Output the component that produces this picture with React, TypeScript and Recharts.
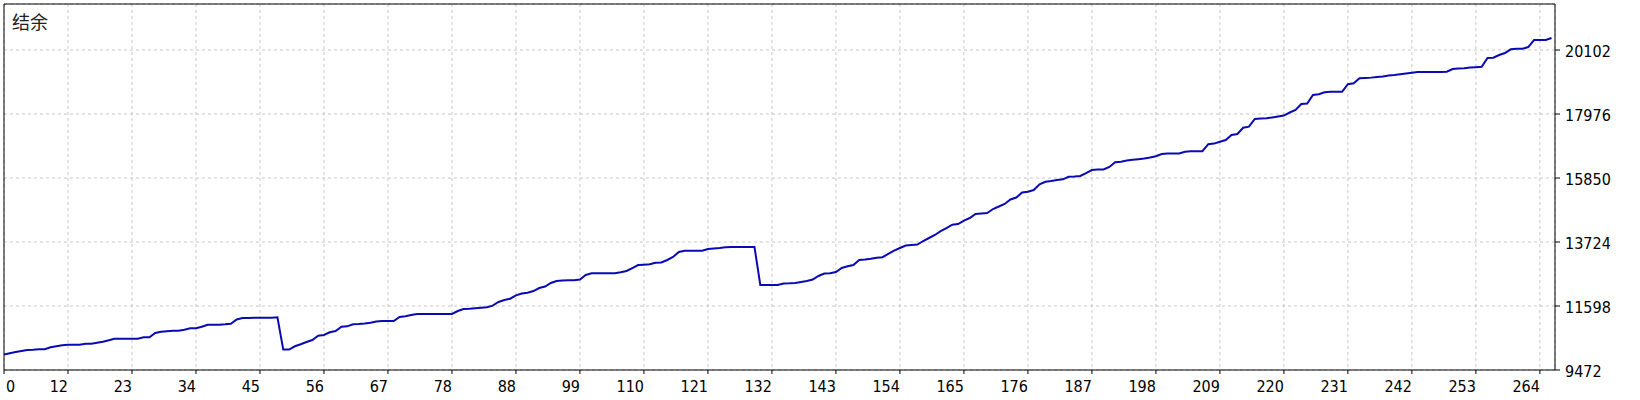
import React from "react";
import {
  LineChart,
  Line,
  XAxis,
  YAxis,
  CartesianGrid,
  ReferenceLine,
} from "recharts";

// balance after each deal
const balance: number[] = [
  9987, 10030, 10070, 10103, 10136, 10143, 10160, 10160, 10226, 10259,
  10293, 10312, 10312, 10312, 10346, 10346, 10379, 10412, 10459, 10512,
  10512, 10512, 10512, 10512, 10558, 10558, 10700, 10744, 10760, 10778,
  10778, 10811, 10857, 10857, 10910, 10977, 10977, 10977, 10990, 11010,
  11150, 11199, 11199, 11205, 11205, 11210, 11210, 11222, 10150, 10150,
  10260, 10326, 10402, 10469, 10611, 10635, 10724, 10768, 10910, 10923,
  10990, 11000, 11017, 11040, 11083, 11100, 11100, 11100, 11233, 11256,
  11299, 11332, 11332, 11332, 11332, 11332, 11332, 11332, 11432, 11498,
  11508, 11525, 11542, 11558, 11610, 11731, 11797, 11841, 11950, 12013,
  12040, 12096, 12196, 12246, 12362, 12429, 12445, 12455, 12455, 12478,
  12628, 12684, 12684, 12684, 12684, 12684, 12717, 12761, 12860, 12960,
  12970, 12983, 13036, 13043, 13126, 13226, 13392, 13432, 13432, 13432,
  13432, 13492, 13508, 13525, 13548, 13558, 13558, 13558, 13558, 13558,
  12296, 12296, 12296, 12296, 12346, 12351, 12362, 12395, 12429, 12478,
  12595, 12678, 12684, 12728, 12860, 12917, 12960, 13126, 13143, 13169,
  13203, 13219, 13326, 13435, 13525, 13608, 13625, 13641, 13757, 13857,
  13957, 14083, 14189, 14299, 14322, 14438, 14521, 14654, 14671, 14688,
  14820, 14903, 14987, 15136, 15202, 15369, 15395, 15452, 15640, 15727,
  15751, 15784, 15807, 15893, 15900, 15917, 16016, 16116, 16133, 16133,
  16216, 16372, 16389, 16432, 16455, 16475, 16495, 16531, 16574, 16648,
  16664, 16664, 16664, 16724, 16741, 16741, 16741, 16973, 16993, 17056,
  17113, 17279, 17312, 17521, 17556, 17810, 17827, 17837, 17863, 17893,
  17926, 18026, 18109, 18309, 18325, 18608, 18631, 18697, 18714, 18714,
  18714, 18966, 18999, 19162, 19172, 19185, 19209, 19225, 19255, 19272,
  19295, 19322, 19345, 19372, 19372, 19372, 19372, 19372, 19382, 19471,
  19485, 19498, 19518, 19531, 19548, 19837, 19847, 19936, 20003, 20126,
  20142, 20142, 20202, 20435, 20435, 20435, 20501,
];

// x ticks sit every 11 deals, the terminal labels them a bit oddly
const xTicks: number[] = [
  0, 11, 22, 33, 44, 55, 66, 77, 88, 99, 110, 121, 132, 143, 154, 165, 176,
  187, 198, 209, 220, 231, 242, 253, 264,
];
const xTickLabels: string[] = [
  "0", "12", "23", "34", "45", "56", "67", "78", "88", "99", "110", "121",
  "132", "143", "154", "165", "176", "187", "198", "209", "220", "231",
  "242", "253", "264",
];
const yTicks: number[] = [9472, 11598, 13724, 15850, 17976, 20102];
const yMin = 9472;
const yMax = 21631;
const xMax = 266.6;

const title = "结余";

const data = balance.map((v, i) => ({ i, v }));

const FONT = "'DejaVu Sans Condensed', 'DejaVu Sans', sans-serif";

const XTick = (props: any) => {
  const { x, y, payload } = props;
  const k = xTicks.indexOf(payload.value);
  const label = k >= 0 ? xTickLabels[k] : String(payload.value);
  const first = payload.value === 0;
  return (
    <text
      x={first ? x + 2 : x}
      y={y}
      dy={16}
      textAnchor={first ? "start" : "end"}
      fill="#000"
      fontSize={16}
      fontFamily={FONT}
    >
      {label}
    </text>
  );
};

const YTick = (props: any) => {
  const { x, y, payload } = props;
  return (
    <text
      x={x}
      y={y}
      dy={7}
      textAnchor="start"
      fill="#000"
      fontSize={16}
      fontFamily={FONT}
    >
      {payload.value}
    </text>
  );
};

export default function App() {
  return (
    <div
      style={{
        position: "absolute",
        left: 0,
        top: 0,
        width: 1640,
        height: 400,
        background: "#fff",
      }}
    >
      <LineChart
        width={1640}
        height={400}
        data={data}
        margin={{ top: 4, left: 4, right: 0, bottom: 0 }}
      >
        <CartesianGrid stroke="#c8c8c8" strokeDasharray="3 3" />
        <XAxis
          dataKey="i"
          type="number"
          domain={[0, xMax]}
          ticks={xTicks}
          interval={0}
          allowDataOverflow
          height={30}
          tickSize={4}
          tickMargin={2}
          axisLine={{ stroke: "#000" }}
          tickLine={{ stroke: "#000" }}
          tick={<XTick />}
        />
        <YAxis
          orientation="right"
          type="number"
          domain={[yMin, yMax]}
          ticks={yTicks}
          interval={0}
          allowDataOverflow
          width={85}
          tickSize={5}
          tickMargin={5}
          axisLine={{ stroke: "#000" }}
          tickLine={{ stroke: "#000" }}
          tick={<YTick />}
        />
        <ReferenceLine x={0} stroke="#000" />
        <ReferenceLine y={yMax} stroke="#000" />
        <Line
          type="linear"
          dataKey="v"
          stroke="#0a0ab4"
          strokeWidth={2}
          dot={false}
          isAnimationActive={false}
        />
      </LineChart>
      <div
        style={{
          position: "absolute",
          left: 12,
          top: 12,
          fontFamily: "'Noto Sans CJK SC', sans-serif",
          fontSize: 18,
          lineHeight: "18px",
          color: "#222",
        }}
      >
        {title}
      </div>
    </div>
  );
}
